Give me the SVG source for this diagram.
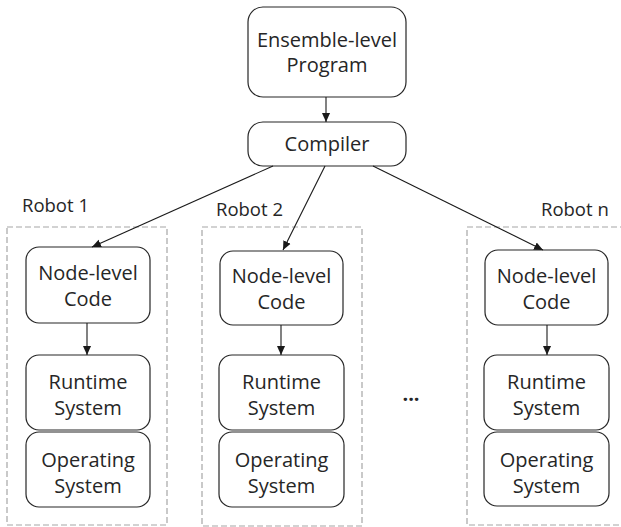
<svg xmlns="http://www.w3.org/2000/svg" width="621" height="527" viewBox="0 0 621 527">
<style>
.box{fill:#fff;stroke:#262626;stroke-width:1.2}
.grp{fill:none;stroke:#a6a6a6;stroke-width:1.2;stroke-dasharray:6,3}
.t{font-family:"Open Sans","DejaVu Sans",sans-serif;font-size:20px;fill:#262626;text-anchor:middle}
.lbl{font-family:"Open Sans","DejaVu Sans",sans-serif;font-size:18.5px;fill:#262626}
.ln{stroke:#1a1a1a;stroke-width:1.1;fill:none;marker-end:url(#ah)}
</style>
<defs>
<marker id="ah" viewBox="0 0 10 10" refX="10" refY="5" markerWidth="9" markerHeight="9" markerUnits="userSpaceOnUse" orient="auto">
<path d="M0,0.5 L10,5 L0,9.5 Z" fill="#1a1a1a"/>
</marker>
</defs>
<rect width="621" height="527" fill="#fff"/>
<g id="robot1">
<rect class="grp" x="7" y="227" width="160" height="298"/>
<text class="lbl" x="22" y="212">Robot 1</text>
</g>
<g id="robot2">
<rect class="grp" x="202" y="227" width="160" height="299"/>
<text class="lbl" x="216" y="216">Robot 2</text>
</g>
<g id="robotn">
<rect class="grp" x="467" y="227" width="170" height="298"/>
<text class="lbl" x="541" y="216">Robot n</text>
</g>
<g id="ensemble">
<rect class="box" x="248" y="7" width="158" height="90" rx="15"/>
<text class="t" x="327" y="47">Ensemble-level</text>
<text class="t" x="327" y="72">Program</text>
</g>
<g id="compiler">
<rect class="box" x="248" y="122" width="158" height="44" rx="15"/>
<text class="t" x="327" y="151">Compiler</text>
</g>
<g id="node1">
<rect class="box" x="26" y="247" width="124" height="76" rx="13"/>
<text class="t" x="88" y="280">Node-level</text>
<text class="t" x="88" y="306">Code</text>
</g>
<g id="runtime1">
<rect class="box" x="26" y="355" width="124" height="75" rx="13"/>
<text class="t" x="88" y="389">Runtime</text>
<text class="t" x="88" y="415">System</text>
</g>
<g id="os1">
<rect class="box" x="26" y="432" width="124" height="75" rx="13"/>
<text class="t" x="88" y="467">Operating</text>
<text class="t" x="88" y="493">System</text>
</g>
<g id="node2">
<rect class="box" x="220" y="251" width="123" height="74" rx="13"/>
<text class="t" x="281.5" y="283">Node-level</text>
<text class="t" x="281.5" y="309">Code</text>
</g>
<g id="runtime2">
<rect class="box" x="219" y="355" width="125" height="75" rx="13"/>
<text class="t" x="281.5" y="389">Runtime</text>
<text class="t" x="281.5" y="415">System</text>
</g>
<g id="os2">
<rect class="box" x="219" y="432" width="125" height="75" rx="13"/>
<text class="t" x="281.5" y="467">Operating</text>
<text class="t" x="281.5" y="493">System</text>
</g>
<g id="noden">
<rect class="box" x="485" y="250" width="123" height="75" rx="13"/>
<text class="t" x="546.5" y="283">Node-level</text>
<text class="t" x="546.5" y="309">Code</text>
</g>
<g id="runtimen">
<rect class="box" x="484" y="355" width="125" height="75" rx="13"/>
<text class="t" x="546.5" y="389">Runtime</text>
<text class="t" x="546.5" y="415">System</text>
</g>
<g id="osn">
<rect class="box" x="484" y="432" width="125" height="74" rx="13"/>
<text class="t" x="546.5" y="467">Operating</text>
<text class="t" x="546.5" y="493">System</text>
</g>
<g id="dots">
<text class="t" x="411" y="401" style="font-weight:bold">...</text>
</g>
<g id="connectors">
<line class="ln" x1="326" y1="97" x2="326" y2="122"/>
<line class="ln" x1="273" y1="166" x2="92" y2="247"/>
<line class="ln" x1="325" y1="166" x2="283" y2="250"/>
<line class="ln" x1="373" y1="166" x2="543" y2="250"/>
<line class="ln" x1="87" y1="323" x2="87" y2="355"/>
<line class="ln" x1="281" y1="325" x2="281" y2="355"/>
<line class="ln" x1="547" y1="325" x2="547" y2="355"/>
</g>
</svg>
